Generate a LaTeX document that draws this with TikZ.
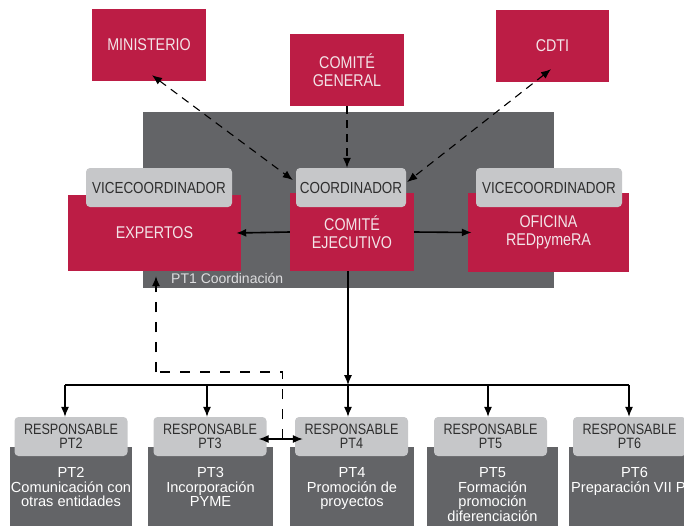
\documentclass[tikz,border=0pt]{standalone}
\usepackage{fontspec}
\setmainfont{Liberation Sans}
\newfontfamily\capf[FakeStretch=0.84]{Liberation Sans}
\usetikzlibrary{arrows.meta,calc}
\definecolor{rojo}{HTML}{BC1D45}
\definecolor{gris}{HTML}{636467}
\definecolor{claro}{HTML}{C6C7C9}
\definecolor{txt}{HTML}{2E2E2E}
\definecolor{pale}{HTML}{F3E4E8}
\begin{document}
\begin{tikzpicture}[x=1pt,y=-1pt,
  redbox/.style={fill=rojo, text=pale, font=\capf\fontsize{17}{18}\selectfont, align=center, inner sep=0pt},
  lightbox/.style={fill=claro, rounded corners=4pt, text=txt, align=center, inner sep=0pt},
  toplight/.style={lightbox, font=\capf\fontsize{16}{16}\selectfont, minimum height=39pt},
  lowlight/.style={lightbox, font=\capf\fontsize{15}{14.5}\selectfont, minimum height=39pt, minimum width=113pt},
  darkbox/.style={fill=gris, inner sep=0pt, minimum height=83pt},
  darktext/.style={text=white, align=center, inner sep=0pt, anchor=north, font=\fontsize{14.6}{14.5}\selectfont},
  conn/.style={line width=1.1pt, -{Latex[length=10pt,width=8pt]}},
  dasha/.style={line width=1.1pt, dash pattern=on 8pt off 6pt},
  dashb/.style={line width=1.1pt, dash pattern=on 10pt off 10pt}
]
\useasboundingbox (0,0) rectangle (684,525);
\clip (0,0) rectangle (684,525);

% top boxes
\node[redbox, minimum width=114pt, minimum height=72pt] (min) at (149,45) {MINISTERIO};
\node[redbox, minimum width=114pt, minimum height=72pt] (cg) at (347,70) {COMITÉ\\GENERAL};
\node[redbox, minimum width=113pt, minimum height=72pt] (cdti) at (552.5,46) {CDTI};

% PT1 area
\node[fill=gris, minimum width=411pt, minimum height=176pt, inner sep=0pt] (pt1) at (348.5,200) {};
\node[text=claro!60!white, anchor=west, inner sep=0pt, font=\fontsize{14}{14}\selectfont] (pt1lab) at (171,278) {PT1 Coordinación};

\node[redbox, minimum width=173pt, minimum height=76pt] (ex) at (154.5,233) {EXPERTOS};
\node[redbox, minimum width=124pt, minimum height=78pt] (ce) at (352,232) {COMITÉ\\EJECUTIVO};
\node[redbox, minimum width=161pt, minimum height=79pt] (of) at (548.5,232.5) {OFICINA\\REDpymeRA};

\node[toplight, minimum width=146pt] (vc1) at (159,187.5) {VICECOORDINADOR};
\node[toplight, minimum width=110pt] (co) at (351,187.5) {COORDINADOR};
\node[toplight, minimum width=146pt] (vc2) at (549,187.5) {VICECOORDINADOR};

% bottom dark boxes
\node[darkbox, minimum width=122pt] (d2) at (71,488.5) {};
\node[darkbox, minimum width=125pt] (d3) at (210.5,488.5) {};
\node[darkbox, minimum width=124pt] (d4) at (352,488.5) {};
\node[darkbox, minimum width=131pt] (d5) at (492.5,488.5) {};
\node[darkbox, minimum width=131pt] (d6) at (634.5,488.5) {};

\node[darktext] (t2) at (71,467.5) {PT2\\Comunicación con\\otras entidades};
\node[darktext] (t3) at (210.5,467.5) {PT3\\Incorporación\\PYME};
\node[darktext] (t4) at (352,467.5) {PT4\\Promoción de\\proyectos};
\node[darktext] (t5) at (492.5,467.5) {PT5\\Formación\\promoción\\diferenciación};
\node[darktext] (t6) at (634.5,467.5) {PT6\\Preparación VII PM};

\node[lowlight] (r2) at (71,436.5) {RESPONSABLE\\PT2};
\node[lowlight] (r3) at (210,436.5) {RESPONSABLE\\PT3};
\node[lowlight] (r4) at (351.5,436.5) {RESPONSABLE\\PT4};
\node[lowlight] (r5) at (490.5,436.5) {RESPONSABLE\\PT5};
\node[lowlight] (r6) at (629.5,436.5) {RESPONSABLE\\PT6};

% top connectors
\draw[dasha, {Latex[length=10pt,width=8pt]}-{Latex[length=10pt,width=8pt]}]
  ([shift={(3,-6)}]min.south) -- ([shift={(-3,-7.5)}]co.west);
\draw[dasha, {Latex[length=10pt,width=8pt]}-{Latex[length=10pt,width=8pt]}]
  ([shift={(-1.5,-13)}]cdti.south) -- ([shift={(1,-5.5)}]co.east);
\draw[dasha, -{Latex[length=10pt,width=8pt]}] (cg.south) -- (cg.south |- co.north);

\draw[conn, line width=1.6pt] (ce.west) -- ([xshift=-5pt]ex.east);
\draw[conn, line width=1.6pt] (ce.east) -- ([xshift=4pt]of.west);

% bus
\coordinate (b2) at (65,385);
\coordinate (b3) at (207,385);
\coordinate (b4) at (348,385);
\coordinate (b5) at (488,385);
\coordinate (b6) at (629,385);
\draw[line width=1.1pt] (b2) -- (b6);
\draw[conn] ([xshift=-4pt]ce.south) -- (b4);
\draw[conn] (b2) -- (b2 |- r2.north);
\draw[conn] (b3) -- (b3 |- r3.north);
\draw[conn] (b4) -- (b4 |- r4.north);
\draw[conn] (b5) -- (b5 |- r5.north);
\draw[conn] (b6) -- (b6 |- r6.north);

% PT3 <-> PT4 and dashed return to EXPERTOS
\draw[line width=1.1pt, {Latex[length=10pt,width=8pt]}-{Latex[length=10pt,width=8pt]}]
  ([shift={(-8,2.5)}]r3.east) -- ([shift={(8,2.5)}]r4.west);
\coordinate (mid) at ($(r3.east)!0.5!(r4.west)+(2,2.5)$);
\coordinate (dk) at (156,372);
\draw[dashb] (mid) |- (dk);
\draw[dashb, -{Latex[length=10pt,width=8pt]}] (dk) -- ([yshift=-5pt]dk |- ex.south);
\end{tikzpicture}
\end{document}
